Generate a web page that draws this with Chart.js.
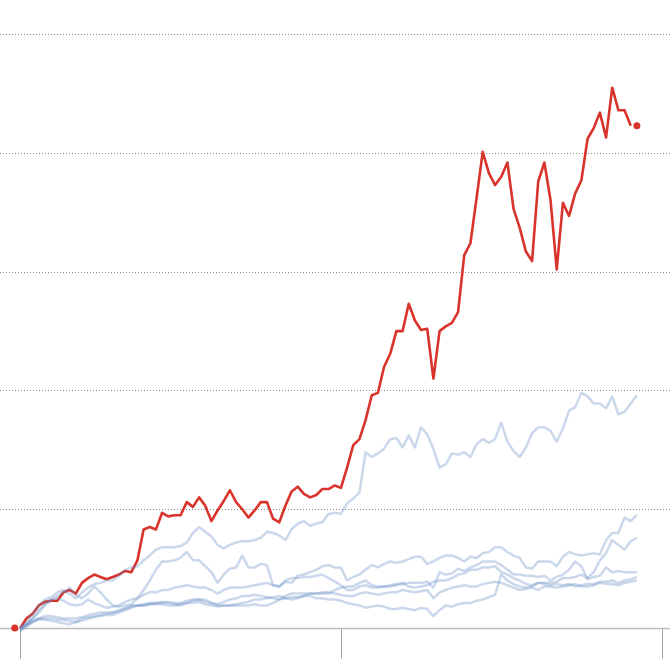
<!DOCTYPE html>
<html>
<head>
<meta charset="utf-8">
<script src="https://cdn.jsdelivr.net/npm/chart.js@4/dist/chart.umd.min.js"></script>
<style>
  html, body { margin: 0; padding: 0; background: #ffffff; }
  #wrap { width: 670px; height: 670px; }
</style>
</head>
<body>
<div id="wrap"><canvas id="c" width="670" height="670"></canvas></div>
<script>
// ---- data (quarter index on x, cumulative change on y; one gridline = 100) ----
const X_TICKS = [0, 52, 104];
const Y_GRID = [100, 200, 300, 400, 500];

const RED = [0,8,12,19,22,23,23,30,32,29,
  38,42,45,43,41,43,45,48,47,57,
  83,85,83,97,94,95,95,106,102,110,
  103,90,99,107,116,106,100,93,99,106,
  106,92,89,103,115,119,113,110,112,117,
  117,120,118,135,154,159,175,196,198,220,
  231,250,250,273,259,251,252,210,250,254,
  257,266,314,324,362,401,383,373,380,392,
  353,337,317,309,376,392,360,302,358,347,
  366,377,412,421,434,413,455,436,436,423];
const RED_DOTS = [{x: -0.9, y: 0}, {x: 100, y: 423}];

const BLUE_A = [0,5,12,19,24,26,30,32,29,25,
  30,34,37,38,40,40,44,49,51,52,
  57,61,66,68,68,68,69,72,80,85,
  81,77,70,67,70,72,73,73,74,76,
  81,80,78,74,83,88,90,86,88,89,
  96,97,96,105,109,114,148,144,147,151,
  159,160,152,162,152,169,163,151,135,138,
  147,146,148,144,155,159,156,159,173,157,
  149,144,152,164,169,169,166,157,168,183,
  186,198,195,189,189,185,195,180,182,189,196];
const BLUE_B = [0,3,8,13,19,24,27,30,34,28,
  25,29,35,30,24,19,18,19,20,25,
  32,40,49,56,56,57,59,64,57,57,
  52,47,38,45,50,51,61,51,51,54,
  53,36,35,39,38,44,45,47,49,52,
  53,51,51,40,43,45,49,53,51,54,
  56,55,56,58,60,60,54,56,59,61,
  61,59,56,60,59,63,64,68,68,64,
  61,59,51,50,56,56,56,52,60,64,
  62,61,62,63,62,74,80,80,93,90,95];
const BLUE_C = [0,3,8,15,20,24,25,23,20,19,
  20,24,21,19,17,18,19,22,24,25,
  28,30,30,32,32,34,35,36,35,34,
  34,32,29,32,34,34,34,35,36,37,
  38,36,35,40,42,42,43,43,44,45,
  42,39,36,32,32,35,36,34,34,35,
  36,37,38,35,34,35,36,39,40,40,
  42,45,46,49,49,51,51,52,47,45,
  42,40,37,36,38,38,38,39,42,42,
  43,45,42,47,57,63,74,70,66,73,76];
const BLUE_D = [-2,2,5,8,8,8,7,7,6,5,
  6,8,9,10,11,11,13,15,17,19,
  19,20,21,21,22,21,21,23,24,24,
  22,21,20,22,24,25,27,27,28,27,
  26,25,24,27,29,29,29,29,29,29,
  29,32,34,35,35,38,40,36,35,35,
  35,36,37,38,38,38,39,34,47,45,
  46,50,48,51,53,56,56,56,53,49,
  45,45,44,44,43,44,40,43,45,49,
  56,52,41,43,44,51,47,48,47,47,47];
const BLUE_E = [-2,1,5,7,7,6,5,4,3,5,
  8,9,10,11,12,13,14,16,18,19,
  19,20,20,20,19,19,20,21,21,22,
  20,19,18,19,19,19,19,19,20,19,
  19,21,24,25,26,26,27,27,25,25,
  24,24,23,21,20,19,17,18,19,18,
  16,16,17,16,15,17,16,10,15,19,
  18,20,21,21,23,24,26,28,45,40,
  37,35,34,35,38,37,36,37,36,37,
  35,36,37,37,39,39,40,38,40,41,43];
const BLUE_F = [-1,3,6,8,10,10,9,8,8,8,
  9,11,12,13,13,13,15,17,19,19,
  20,21,21,22,21,20,19,21,23,24,
  24,21,19,19,19,20,21,22,24,24,
  25,26,27,25,24,25,27,29,29,30,
  30,29,28,27,27,29,30,29,28,29,
  30,30,32,31,30,31,32,25,30,32,
  34,35,36,35,35,37,38,39,38,36,
  34,32,33,34,32,35,35,34,35,36,
  37,35,35,36,38,37,37,36,38,39,40];
const BLUES = [BLUE_A, BLUE_B, BLUE_C, BLUE_D, BLUE_E, BLUE_F];

// ---- styling ----
const RED_COLOR = '#d9342b';
const BLUE_COLOR = 'rgba(98,138,195,0.33)';

const toPoints = arr => arr.map((v, i) => ({x: i, y: v}));

const datasets = [];
BLUES.forEach(arr => datasets.push({
  data: toPoints(arr), borderColor: BLUE_COLOR, borderWidth: 2.5,
  pointRadius: 0, tension: 0, fill: false, borderJoinStyle: 'round'
}));
datasets.push({
  data: toPoints(RED), borderColor: RED_COLOR, borderWidth: 2.6,
  pointRadius: 0, tension: 0, fill: false, borderJoinStyle: 'round'
});
datasets.push({
  data: RED_DOTS, showLine: false, pointRadius: 3.5, pointBorderWidth: 0,
  pointBackgroundColor: RED_COLOR, borderColor: RED_COLOR
});

const gridPlugin = {
  id: 'gridPlugin',
  beforeDatasetsDraw(chart) {
    const {ctx, chartArea, scales: {x, y}} = chart;
    ctx.save();
    ctx.lineWidth = 1;
    ctx.strokeStyle = '#8a8a8a';
    ctx.setLineDash([1, 2]);
    Y_GRID.forEach(v => {
      const py = Math.round(y.getPixelForValue(v)) + 0.5;
      ctx.beginPath();
      ctx.moveTo(chartArea.left, py);
      ctx.lineTo(chartArea.right, py);
      ctx.stroke();
    });
    ctx.setLineDash([]);
    const y0 = Math.round(y.getPixelForValue(0)) + 0.5;
    ctx.strokeStyle = '#a0a0a0';
    X_TICKS.forEach(t => {
      const px = Math.round(x.getPixelForValue(t)) + 0.5;
      ctx.beginPath();
      ctx.moveTo(px, y0);
      ctx.lineTo(px, y0 + 30);
      ctx.stroke();
    });
    ctx.strokeStyle = '#bdbdbd';
    ctx.lineWidth = 1.5;
    ctx.beginPath();
    ctx.moveTo(chartArea.left, y0);
    ctx.lineTo(chartArea.right, y0);
    ctx.stroke();
    ctx.restore();
  }
};

new Chart(document.getElementById('c'), {
  type: 'line',
  data: { datasets },
  options: {
    responsive: false,
    animation: false,
    layout: { padding: 0, autoPadding: false },
    plugins: { legend: { display: false }, tooltip: { enabled: false } },
    elements: { line: { capBezierPoints: false } },
    scales: {
      x: { type: 'linear', display: false, min: -3.29, max: 105.37 },
      y: { type: 'linear', display: false, min: -35.37, max: 528.84 }
    }
  },
  plugins: [gridPlugin]
});
</script>
</body>
</html>
